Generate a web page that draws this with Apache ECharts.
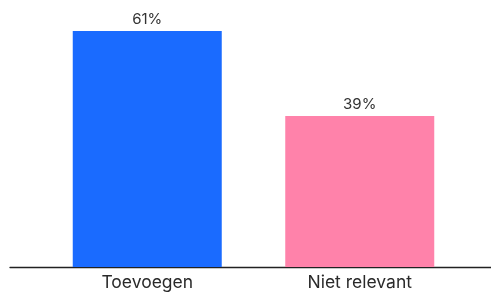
<!DOCTYPE html>
<html>
<head>
<meta charset="utf-8">
<script src="https://cdn.jsdelivr.net/npm/echarts@6/dist/echarts.min.js"></script>
<style>
  html, body { margin: 0; padding: 0; background: #fff; }
  #chart { width: 491px; height: 292px; }
</style>
</head>
<body>
<div id="chart"></div>
<script>
const categories = ['Toevoegen', 'Niet relevant'];
const values = [61, 39];
const colors = ['#1a6bff', '#ff82aa'];

const chart = echarts.init(document.getElementById('chart'));
chart.setOption({
  animation: false,
  grid: [
    { left: 41, right: 25, top: 31, bottom: 25 },
    { left: 10, right: 0, top: 31, bottom: 25 }
  ],
  xAxis: [
    {
      gridIndex: 0,
      type: 'category',
      data: categories,
      axisLine: { show: false },
      axisTick: { show: false },
      axisLabel: {
        margin: 7,
        fontSize: 17.5,
        color: '#2a2a2a',
        fontFamily: 'Inter'
      }
    },
    {
      gridIndex: 1,
      type: 'category',
      data: categories,
      axisLine: { show: true, lineStyle: { color: '#222', width: 1.3 } },
      axisTick: { show: false },
      axisLabel: { show: false }
    }
  ],
  yAxis: [
    { gridIndex: 0, type: 'value', min: 0, max: 61, show: false },
    { gridIndex: 1, type: 'value', min: 0, max: 61, show: false }
  ],
  series: [{
    type: 'bar',
    xAxisIndex: 0,
    yAxisIndex: 0,
    barWidth: 149,
    data: values.map((v, i) => ({ value: v, itemStyle: { color: colors[i] } })),
    label: {
      show: true,
      position: 'top',
      distance: 4,
      formatter: '{c}%',
      fontSize: 15,
      color: '#333',
      fontFamily: 'Inter'
    }
  }]
});
</script>
</body>
</html>
